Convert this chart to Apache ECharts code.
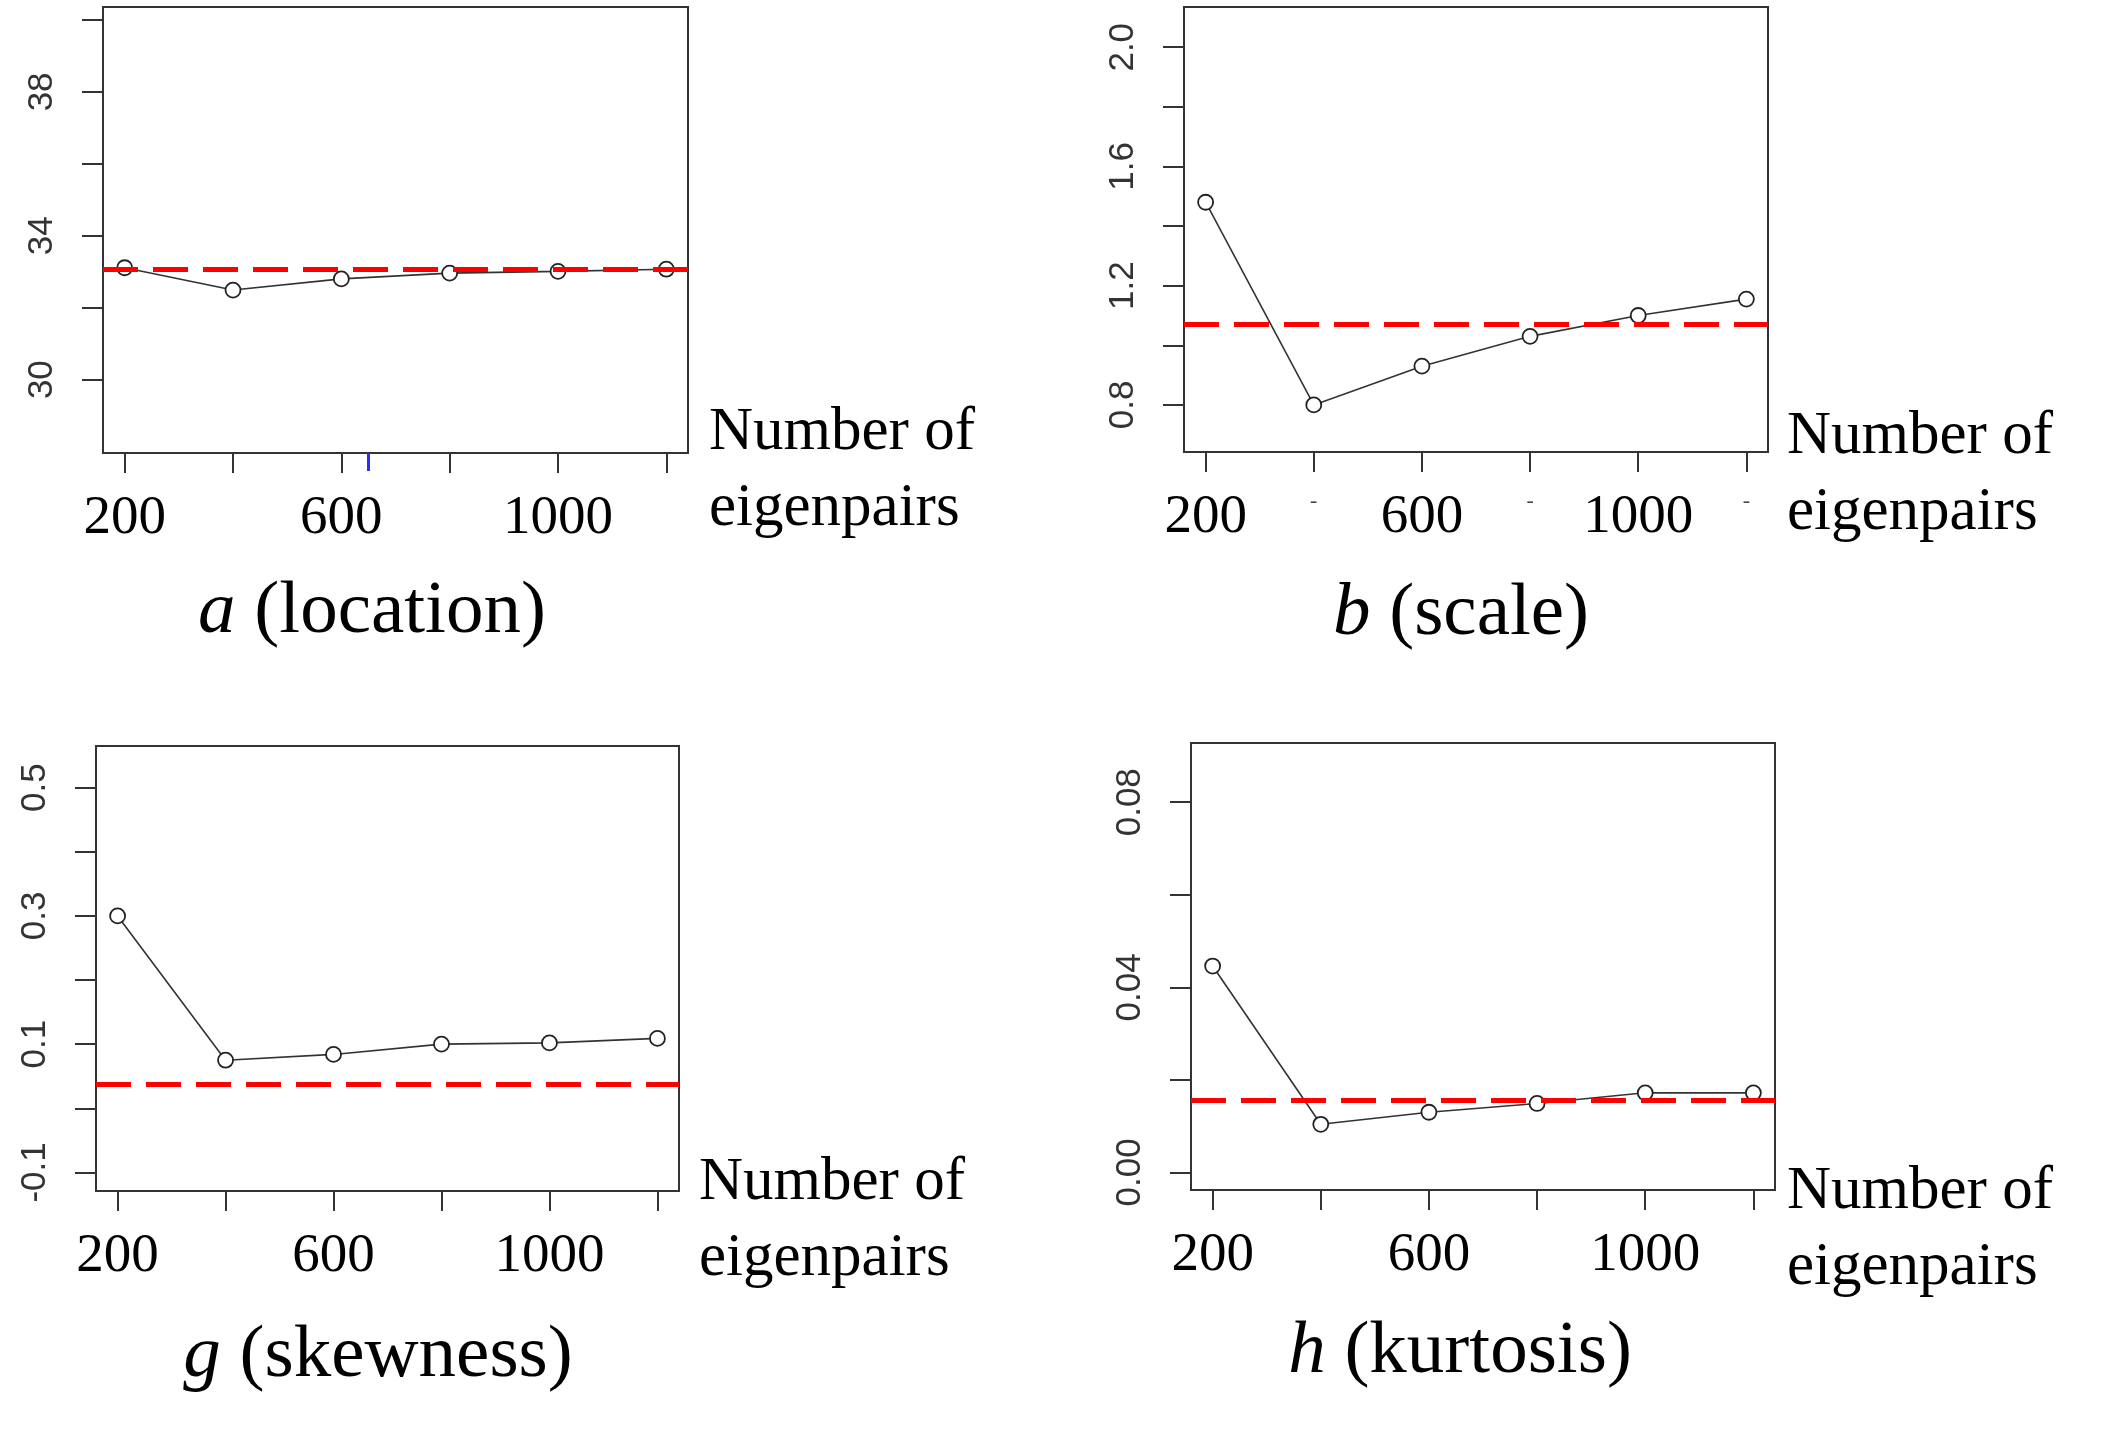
<!DOCTYPE html>
<html lang="en">
<head>
    <meta charset="UTF-8">
    <title>Eigenpairs convergence</title>
    <script src="https://cdn.jsdelivr.net/npm/echarts@6/dist/echarts.min.js"></script>
    <style>
        html,
        body {
            margin: 0;
            height: 100%;
            background: #fff;
        }
        #main {
            width: 100%;
            height: 100%;
        }
    </style>
</head>
<body>
    <div id="main"></div>
    <script type="text/javascript">
        const myChart = echarts.init(document.getElementById('main'));

        // number of eigenpairs on every x axis
        const eigenCounts = [200, 400, 600, 800, 1000, 1200];
        const xTicks = [200, 400, 600, 800, 1000, 1200];
        const xLabels = [200, 600, 1000];

        // estimates per parameter, and the reference (true) value
        const locationValues = [33.11, 32.49, 32.80, 32.96, 33.01, 33.07];
        const scaleValues = [1.48, 0.80, 0.93, 1.03, 1.10, 1.155];
        const skewValues = [0.300, 0.075, 0.084, 0.100, 0.102, 0.109];
        const kurtValues = [0.0446, 0.0104, 0.0130, 0.0149, 0.0172, 0.0172];
        const trueValues = [33.07, 1.072, 0.038, 0.0157];

        const panelTitles = ['{i|a} (location)', '{i|b} (scale)', '{i|g} (skewness)', '{i|h} (kurtosis)'];

        const yTicks = [
            [30, 32, 34, 36, 38, 40],
            [0.8, 1.0, 1.2, 1.4, 1.6, 1.8, 2.0],
            [-0.1, 0.0, 0.1, 0.2, 0.3, 0.4, 0.5],
            [0.00, 0.02, 0.04, 0.06, 0.08]
        ];
        const yLabels = [
            [30, 34, 38],
            [0.8, 1.2, 1.6, 2.0],
            [-0.1, 0.1, 0.3, 0.5],
            [0.00, 0.04, 0.08]
        ];
        const yRanges = [[27.96, 40.36], [0.642, 2.135], [-0.129, 0.565], [-0.0038, 0.0928]];
        const yDigits = [0, 1, 1, 2];

        // layout of the four panels (pixels)
        const boxes = [
            { left: 103, top: 7, width: 585, height: 446 },
            { left: 1184, top: 7, width: 584, height: 445 },
            { left: 96, top: 746, width: 583, height: 445 },
            { left: 1191, top: 743, width: 584, height: 447 }
        ];
        const axisNamePos = [[709, 395], [1787, 399], [699, 1145], [1787, 1154]];
        const titlePos = [[372, 612], [1461, 614], [378, 1356], [1460, 1352]];

        const serif = '"Liberation Serif", "Times New Roman", serif';
        const sans = '"Liberation Sans", Arial, sans-serif';
        const allValues = [locationValues, scaleValues, skewValues, kurtValues];

        const grids = boxes.map(b => Object.assign({
            show: true,
            borderColor: '#333',
            borderWidth: 2,
            backgroundColor: 'transparent'
        }, b));

        const xAxes = boxes.map((b, i) => ({
            type: 'value',
            gridIndex: i,
            position: 'bottom',
            min: 160,
            max: 1240,
            axisLine: { show: false, onZero: false },
            splitLine: { show: false },
            axisTick: {
                customValues: xTicks,
                length: 20,
                lineStyle: { color: '#333', width: 2 }
            },
            axisLabel: {
                customValues: i === 1 ? xTicks : xLabels,
                margin: 38,
                fontFamily: serif,
                fontSize: 55,
                color: '#000',
                formatter: v => (xLabels.indexOf(v) < 0 ? '{d|-}' : String(v)),
                rich: {
                    d: { fontSize: 22, fontFamily: serif, color: '#444', padding: [0, 0, 22, 0] }
                }
            }
        }));
        // stray blue tick under the first panel
        xAxes.push({
            type: 'value',
            gridIndex: 0,
            position: 'bottom',
            offset: 0,
            min: 160,
            max: 1240,
            axisLine: { show: false, onZero: false },
            splitLine: { show: false },
            axisLabel: { show: false },
            axisTick: {
                customValues: [650],
                length: 18,
                lineStyle: { color: '#2b2bff', width: 3 }
            }
        });

        const yAxes = boxes.map((b, i) => ({
            type: 'value',
            gridIndex: i,
            position: 'left',
            min: yRanges[i][0],
            max: yRanges[i][1],
            axisLine: { show: false, onZero: false },
            splitLine: { show: false },
            axisTick: {
                customValues: yTicks[i],
                length: 21,
                lineStyle: { color: '#333', width: 2 }
            },
            axisLabel: {
                customValues: yLabels[i],
                rotate: 90,
                margin: 43,
                fontFamily: sans,
                fontSize: 35,
                color: '#333',
                formatter: v => v.toFixed(yDigits[i])
            }
        }));

        const series = allValues.map((vals, i) => ({
            type: 'line',
            xAxisIndex: i,
            yAxisIndex: i,
            data: eigenCounts.map((n, k) => [n, vals[k]]),
            symbol: 'circle',
            symbolSize: 15,
            lineStyle: { color: '#333', width: 1.6 },
            itemStyle: { color: '#fff', borderColor: '#222', borderWidth: 1.8 },
            animation: false,
            markLine: {
                silent: true,
                symbol: 'none',
                precision: 6,
                animation: false,
                label: { show: false },
                lineStyle: { color: '#ff0000', type: [35, 15], width: 5 },
                data: [{ yAxis: trueValues[i] }]
            }
        }));

        const graphics = [];
        axisNamePos.forEach(p => {
            graphics.push({
                type: 'text',
                x: p[0],
                y: p[1],
                style: {
                    text: 'Number of\neigenpairs',
                    fontFamily: serif,
                    fontSize: 61,
                    lineHeight: 76,
                    fill: '#000'
                }
            });
        });
        titlePos.forEach((p, i) => {
            graphics.push({
                type: 'text',
                x: p[0],
                y: p[1],
                style: {
                    text: panelTitles[i],
                    fontFamily: serif,
                    fontSize: 75,
                    fill: '#000',
                    align: 'center',
                    verticalAlign: 'middle',
                    rich: {
                        i: { fontFamily: serif, fontSize: 75, fontStyle: 'italic' }
                    }
                }
            });
        });

        myChart.setOption({
            animation: false,
            grid: grids,
            xAxis: xAxes,
            yAxis: yAxes,
            series: series,
            graphic: graphics
        });
    </script>
</body>
</html>
